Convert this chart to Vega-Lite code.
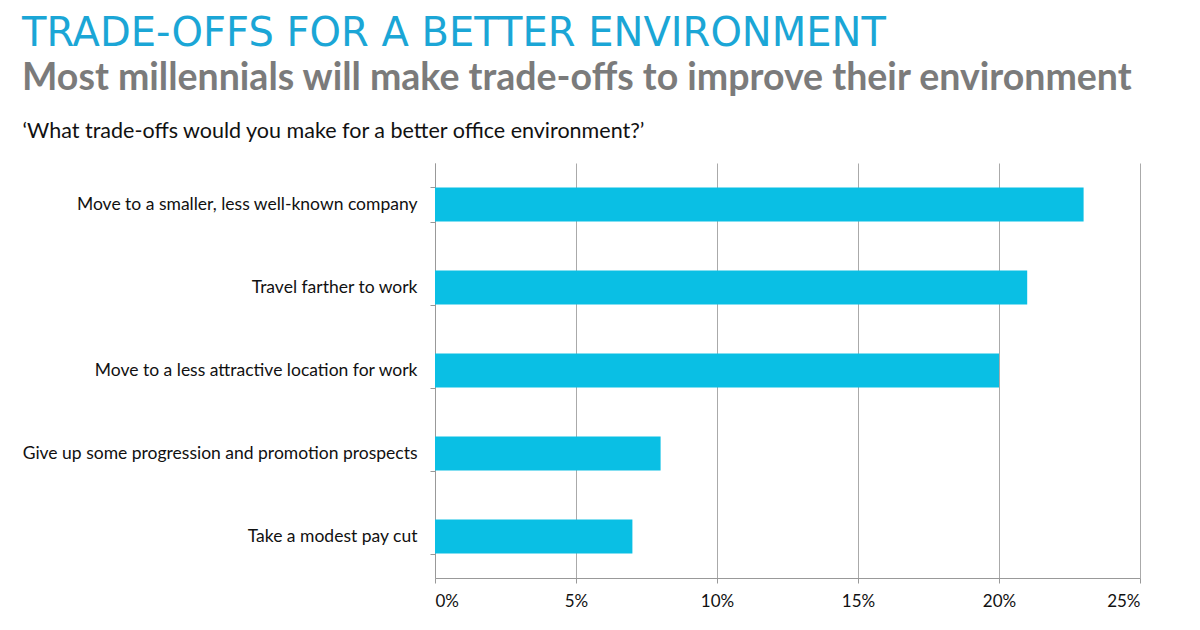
{
  "$schema": "https://vega.github.io/schema/vega-lite/v6.json",
  "autosize": {"type": "none"},
  "padding": {"left": 435, "top": 163, "right": 60, "bottom": 52},
  "width": 705,
  "height": 415,
  "background": "white",
  "title": {
    "text": "TRADE-OFFS FOR A BETTER ENVIRONMENT",
    "subtitle": "Most millennials will make trade-offs to improve their environment",
    "anchor": "start",
    "frame": "group",
    "dx": -413,
    "offset": 23,
    "font": "DejaVu Sans",
    "fontSize": 40,
    "fontWeight": "normal",
    "color": "#1ba6d6",
    "subtitleFont": "Lato",
    "subtitleFontSize": 37.5,
    "subtitleFontWeight": "bold",
    "subtitleColor": "#7b7b7b",
    "subtitlePadding": 6
  },
  "data": {
    "values": [
      {"tradeoff": "Move to a smaller, less well-known company", "share": 0.23},
      {"tradeoff": "Travel farther to work", "share": 0.21},
      {"tradeoff": "Move to a less attractive location for work", "share": 0.20},
      {"tradeoff": "Give up some progression and promotion prospects", "share": 0.08},
      {"tradeoff": "Take a modest pay cut", "share": 0.07}
    ]
  },
  "mark": {"type": "bar", "color": "#0abfe4"},
  "encoding": {
    "y": {
      "field": "tradeoff",
      "type": "nominal",
      "sort": null,
      "scale": {"paddingInner": 0.59, "paddingOuter": 0.295},
      "axis": {
        "title": "‘What trade-offs would you make for a better office environment?’",
        "titleAngle": 0,
        "titleAlign": "left",
        "titleBaseline": "alphabetic",
        "titleX": -413,
        "titleY": -26,
        "titleFont": "Lato",
        "titleFontSize": 21.5,
        "titleFontWeight": "normal",
        "titleColor": "#111111",
        "labelFont": "Lato",
        "labelFontSize": 17.5,
        "labelColor": "#111111",
        "labelPadding": 13,
        "labelLimit": 450,
        "tickBand": "extent",
        "tickSize": 5,
        "tickColor": "#999999",
        "domainColor": "#999999",
        "grid": false
      }
    },
    "x": {
      "field": "share",
      "type": "quantitative",
      "scale": {"domain": [0, 0.25], "nice": false},
      "axis": {
        "title": null,
        "format": ".0%",
        "values": [0, 0.05, 0.1, 0.15, 0.2, 0.25],
        "labelFont": "Lato",
        "labelFontSize": 17,
        "labelColor": "#111111",
        "labelPadding": 10,
        "tickSize": 5,
        "tickColor": "#999999",
        "domainColor": "#999999",
        "gridColor": "#aaaaaa",
        "gridOpacity": 1
      }
    }
  },
  "config": {"view": {"stroke": null}}
}
